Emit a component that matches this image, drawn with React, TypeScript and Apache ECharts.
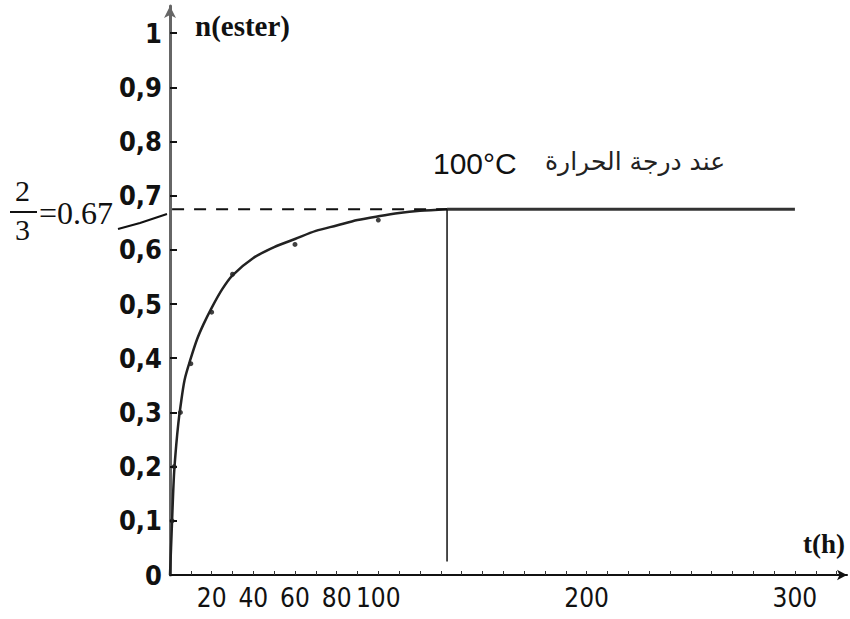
import React, { useEffect, useRef } from "react";
import * as echarts from "echarts";

const curveT = [0, 0.5, 1, 1.5, 2, 3, 4, 5, 7, 10, 13, 16, 20, 25, 30, 40, 50, 60, 70, 80, 90, 100, 110, 120, 133];
const curveN = [0, 0.05, 0.1, 0.15, 0.19, 0.24, 0.28, 0.31, 0.36, 0.4, 0.435, 0.462, 0.493, 0.527, 0.553, 0.585, 0.605, 0.62, 0.635, 0.645, 0.655, 0.662, 0.668, 0.672, 0.675];
const pointT = [1, 2, 5, 10, 20, 30, 60, 100];
const pointN = [0.1, 0.2, 0.3, 0.39, 0.485, 0.555, 0.61, 0.655];
const plateauT = [133, 300];
const plateauN = 0.675;
const xLabels = [20, 40, 60, 80, 100, 200, 300];
const yTicks = [0, 0.1, 0.2, 0.3, 0.4, 0.5, 0.6, 0.7, 0.8, 0.9, 1];

const NARROW = "'Liberation Sans Narrow', 'DejaVu Sans Condensed', 'Liberation Sans'";

export default function App() {
  const ref = useRef<HTMLDivElement>(null);
  useEffect(() => {
    const chart = echarts.init(ref.current!, null, { renderer: "svg" });
    const curve = curveT.map((t, i) => [t, curveN[i]]);
    const pts = pointT.map((t, i) => [t, pointN[i]]);
    chart.setOption({
      animation: false,
      grid: { left: 170, right: 3, top: 6, bottom: 44 },
      xAxis: {
        type: "value",
        min: 0,
        max: 325,
        interval: 10,
        axisLine: { lineStyle: { color: "#111", width: 2 }, symbol: ["none", "arrow"], symbolSize: [8, 10] },
        axisTick: { show: true, inside: true, length: 4, lineStyle: { color: "#333", width: 1 } },
        splitLine: { show: false },
        axisLabel: {
          color: "#111",
          fontSize: 26,
          fontFamily: NARROW,
          margin: 10,
          formatter: (v: number) => (xLabels.includes(v) ? String(v) : ""),
          showMaxLabel: false,
        },
      },
      yAxis: {
        type: "value",
        min: 0,
        max: 1.05,
        interval: 0.1,
        axisLine: { lineStyle: { color: "#666", width: 3 }, symbol: ["none", "arrow"], symbolSize: [9, 12] },
        axisTick: { show: true, inside: true, length: 7, lineStyle: { color: "#111", width: 2 } },
        splitLine: { show: false },
        axisLabel: {
          color: "#111",
          fontSize: 27,
          fontWeight: "bold",
          fontFamily: NARROW,
          margin: 8,
          showMaxLabel: false,
          formatter: (v: number) => {
            const r = Math.round(v * 10) / 10;
            if (!yTicks.some((y) => Math.abs(y - r) < 1e-6) || v > 1.001) return "";
            if (r === 0) return "0";
            if (r === 1) return "1";
            return r.toFixed(1).replace(".", ",");
          },
        },
      },
      series: [
        {
          type: "line",
          data: curve,
          smooth: 0.3,
          showSymbol: false,
          lineStyle: { color: "#222", width: 2.5 },
        },
        {
          type: "scatter",
          data: pts,
          symbolSize: 5,
          itemStyle: { color: "#111" },
        },
        {
          type: "line",
          data: plateauT.map((t) => [t, plateauN]),
          showSymbol: false,
          lineStyle: { color: "#333", width: 3 },
        },
        {
          type: "line",
          data: [[1, plateauN], [plateauT[0], plateauN]],
          showSymbol: false,
          lineStyle: { color: "#111", width: 2, type: [12, 10] },
        },
        {
          type: "line",
          data: [[plateauT[0], 0.025], [plateauT[0], plateauN]],
          showSymbol: false,
          lineStyle: { color: "#111", width: 1.5 },
        },
      ],
      graphic: [
        { type: "text", left: 195, top: 11, style: { text: "n(ester)", fontSize: 29, fontWeight: "bold", fontFamily: "Liberation Serif", fill: "#111" } },
        { type: "text", left: 803, top: 530, style: { text: "t(h)", fontSize: 27, fontWeight: "bold", fontFamily: "Liberation Serif", fill: "#111" } },
        { type: "text", left: 433, top: 148, style: { text: "100°C", fontSize: 30, fontFamily: "Liberation Sans", fill: "#111" } },
        { type: "text", left: 545, top: 149, style: { text: "عند درجة الحرارة", fontSize: 25, fontFamily: "DejaVu Sans", fill: "#222" } },
        { type: "text", left: 15, top: 175, style: { text: "2", fontSize: 30, fontFamily: "Liberation Serif", fill: "#111" } },
        { type: "line", shape: { x1: 10, y1: 212, x2: 37, y2: 212 }, style: { stroke: "#111", lineWidth: 2 } },
        { type: "text", left: 15, top: 214, style: { text: "3", fontSize: 30, fontFamily: "Liberation Serif", fill: "#111" } },
        { type: "text", left: 39, top: 197, style: { text: "=0.67", fontSize: 32, fontFamily: "Liberation Serif", fill: "#111" } },
        { type: "polyline", shape: { points: [[118, 229], [140, 223], [167, 214]] }, style: { stroke: "#111", lineWidth: 2, fill: "none" } },
      ],
    });
    return () => chart.dispose();
  }, []);
  return <div ref={ref} style={{ width: 850, height: 619, position: "absolute", left: 0, top: 0 }} />;
}
